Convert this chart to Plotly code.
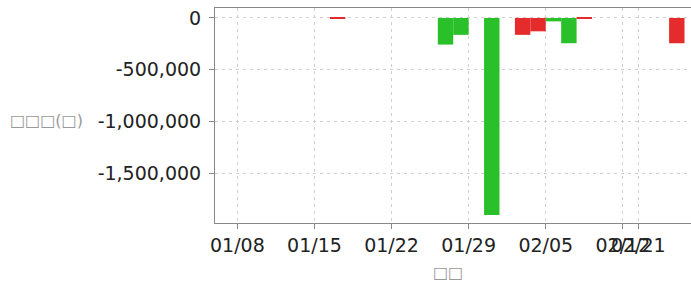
import pandas as pd
import plotly.graph_objects as go

# Trading-day timeline (weekends skipped)
timeline_start = "2013-01-07"
timeline_end = "2013-02-18"

red_dates = ["2013-01-16", "2013-02-01", "2013-02-04", "2013-02-07", "2013-02-15"]
red_values = [-4000, -163000, -129000, -8000, -244000]

green_dates = ["2013-01-25", "2013-01-28", "2013-01-30", "2013-02-05", "2013-02-06"]
green_values = [-257000, -163000, -1900000, -33000, -244000]

tick_dates = ["2013-01-08", "2013-01-15", "2013-01-22", "2013-01-29",
              "2013-02-05", "2013-02-12", "2013-02-13"]
tick_labels = ["01/08", "01/15", "01/22", "01/29", "02/05", "02/12", "02/21"]

y_ticks = [0, -500000, -1000000, -1500000]

y_title = "□□□(□)"
x_title = "□□"

slots = pd.bdate_range(timeline_start, timeline_end)
slot_index = {d: i for i, d in enumerate(slots)}


def pos(d):
    return slot_index[pd.Timestamp(d)]


fig = go.Figure()
fig.add_trace(go.Bar(
    x=[pos(d) + 0.5 for d in red_dates], y=red_values, width=1,
    marker=dict(color="#e52b2b", line=dict(width=0)), name="red"))
fig.add_trace(go.Bar(
    x=[pos(d) + 0.5 for d in green_dates], y=green_values, width=1,
    marker=dict(color="#2ac02a", line=dict(width=0)), name="green"))

font = "DejaVu Sans"
fig.update_layout(
    width=691, height=288,
    margin=dict(l=215, r=0, t=8, b=65, autoexpand=False),
    paper_bgcolor="white", plot_bgcolor="white",
    showlegend=False, barmode="overlay",
    font=dict(family=font, size=19, color="#222"),
    xaxis=dict(
        range=[-0.45, 30.42], automargin=False, tickangle=0,
        tickvals=[pos(d) for d in tick_dates], ticktext=tick_labels,
        showgrid=True, gridcolor="#d0d0d0", griddash="3px,4px", gridwidth=1,
        showline=True, linecolor="#888", linewidth=1, mirror=True,
        ticks="outside", ticklen=5, tickcolor="#888",
        tickfont=dict(size=19, color="#222"), zeroline=False,
    ),
    yaxis=dict(
        range=[-1978000, 96000], automargin=False,
        tickvals=y_ticks, ticktext=[f"{v:,}" for v in y_ticks],
        showgrid=True, gridcolor="#d0d0d0", griddash="3px,4px", gridwidth=1,
        showline=True, linecolor="#888", linewidth=1, mirror=True,
        ticks="outside", ticklen=5, tickcolor="#888", ticklabelstandoff=4,
        tickfont=dict(size=19, color="#222"), zeroline=False,
    ),
    annotations=[
        dict(text=y_title, xref="paper", yref="paper", x=-0.355, y=0.479,
             xanchor="center", yanchor="middle", showarrow=False,
             font=dict(family=font, size=16, color="#999")),
        dict(text=x_title, xref="paper", yref="paper", x=0.489, y=-0.228,
             xanchor="center", yanchor="middle", showarrow=False,
             font=dict(family=font, size=16, color="#999")),
    ],
)

fig.write_html("out.html", config={"displayModeBar": False},
               post_script="document.body.style.margin='0';")
